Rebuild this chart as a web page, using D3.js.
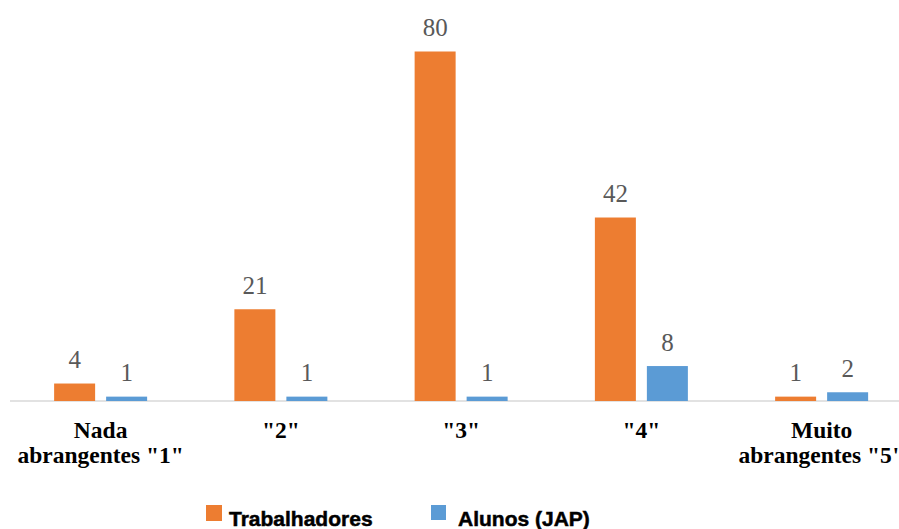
<!DOCTYPE html>
<html>
<head>
<meta charset="utf-8">
<script src="https://d3js.org/d3.v7.min.js"></script>
<style>
  html, body { margin: 0; padding: 0; background: #fff; }
  svg { display: block; }
</style>
</head>
<body>
<script>
// data
const categories = ['Nada\nabrangentes "1"', '"2"', '"3"', '"4"', 'Muito\nabrangentes "5"'];
const seriesNames = ['Trabalhadores', 'Alunos (JAP)'];
const trabalhadores = [4, 21, 80, 42, 1];
const alunos = [1, 1, 1, 8, 2];
const colors = ['#ED7D31', '#5B9BD5'];

const width = 899, height = 529;
const baseY = 401;

const svg = d3.select('body').append('svg')
  .attr('width', width)
  .attr('height', height);

// category bands run past the right edge, like the original
const x = d3.scaleBand()
  .domain(categories)
  .range([10.5, 10.5 + 180.25 * categories.length])
  .paddingInner(0)
  .paddingOuter(0);

const y = d3.scaleLinear()
  .domain([0, 80])
  .range([baseY, 51.5]);

const barW = 41, gap = 11;
const offsets = [-(gap / 2 + barW), gap / 2];

const rows = categories.map((c, i) => ({ cat: c, vals: [trabalhadores[i], alunos[i]] }));

// baseline
svg.append('line')
  .attr('x1', 10).attr('x2', width)
  .attr('y1', baseY).attr('y2', baseY)
  .attr('stroke', '#d9d9d9')
  .attr('stroke-width', 1.5);

const groups = svg.append('g')
  .selectAll('g')
  .data(rows)
  .enter()
  .append('g')
  .attr('transform', d => `translate(${x(d.cat) + x.bandwidth() / 2},0)`);

seriesNames.forEach((name, s) => {
  groups.append('rect')
    .attr('x', offsets[s])
    .attr('width', barW)
    .attr('y', d => y(d.vals[s]))
    .attr('height', d => baseY - y(d.vals[s]))
    .attr('fill', colors[s]);

  groups.append('text')
    .attr('x', offsets[s] + barW / 2)
    .attr('y', d => y(d.vals[s]) - 15.5)
    .attr('text-anchor', 'middle')
    .attr('font-family', '"Liberation Serif", "Times New Roman", serif')
    .attr('font-size', 25)
    .attr('fill', '#595959')
    .text(d => d.vals[s]);
});

// category labels
groups.append('text')
  .attr('text-anchor', 'middle')
  .attr('font-family', '"Liberation Serif", "Times New Roman", serif')
  .attr('font-weight', 'bold')
  .attr('font-size', 23.5)
  .attr('fill', '#000')
  .selectAll('tspan')
  .data(d => d.cat.split('\n'))
  .enter()
  .append('tspan')
  .attr('x', 0)
  .attr('y', (d, i) => 438 + i * 25)
  .text(d => d);

// legend
const legendItems = [
  { name: seriesNames[0], color: colors[0], sx: 206, tx: 229, size: 16 },
  { name: seriesNames[1], color: colors[1], sx: 431, tx: 458, size: 15 }
];

const legend = svg.append('g');
legendItems.forEach(item => {
  legend.append('rect')
    .attr('x', item.sx)
    .attr('y', 505)
    .attr('width', item.size)
    .attr('height', item.size)
    .attr('fill', item.color);
  legend.append('text')
    .attr('x', item.tx)
    .attr('y', 526)
    .attr('font-family', '"Liberation Sans", Arial, sans-serif')
    .attr('font-weight', 'bold')
    .attr('font-size', 21)
    .attr('fill', '#000')
    .attr('stroke', '#000')
    .attr('stroke-width', 0.5)
    .text(item.name);
});
</script>
</body>
</html>
